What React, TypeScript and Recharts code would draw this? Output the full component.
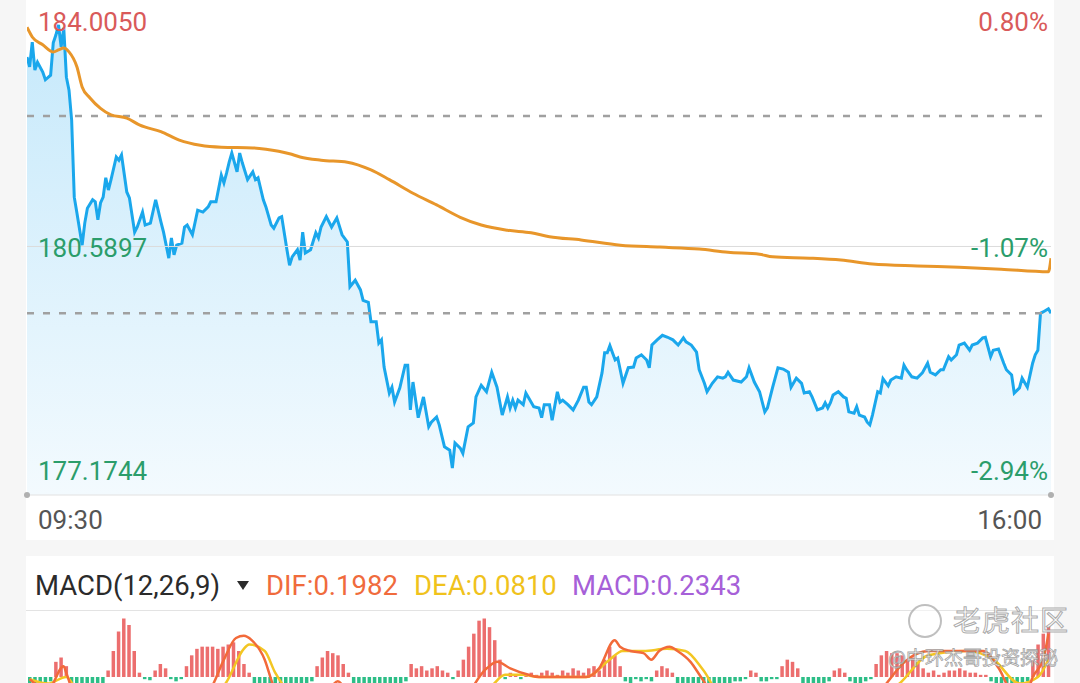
import React from 'react';
import {
  ComposedChart,
  Area,
  Line,
  Bar,
  Cell,
  XAxis,
  YAxis,
  ReferenceLine,
  ReferenceDot,
} from 'recharts';

// minutes since 09:30 -> last price
const priceTicks: [number, number][] = [
  [0, 183.51], [1, 183.36], [2, 183.74], [3, 183.31], [4, 183.43], [6, 183.28], [7, 183.16], [9, 183.23],
  [10, 183.73], [11, 183.85], [12, 184.005], [13, 183.67], [14, 183.96], [15, 183.2], [16, 183.0], [17, 182.54],
  [18, 181.35], [19, 181.11], [21, 180.61], [22, 180.95], [23, 181.18], [25, 181.31], [26, 181.28], [27, 181.0],
  [28, 181.26], [29, 181.35], [30, 181.65], [31, 181.46], [32, 181.62], [34, 181.97], [35, 181.92], [36, 182.0],
  [38, 181.43], [39, 181.34], [41, 180.81], [42, 180.89], [44, 181.12], [45, 180.92], [47, 180.95], [49, 181.31],
  [51, 180.97], [52, 180.81], [54, 180.41], [55, 180.72], [56, 180.46], [57, 180.61], [59, 180.64], [60, 180.89],
  [61, 180.92], [63, 180.77], [65, 181.15], [67, 181.12], [69, 181.2], [70, 181.28], [72, 181.28], [74, 181.69],
  [75, 181.57], [76, 181.72], [77, 181.89], [78, 182.03], [80, 181.74], [81, 182.03], [82, 181.88], [84, 181.62],
  [86, 181.74], [87, 181.62], [88, 181.65], [90, 181.31], [91, 181.2], [93, 180.92], [94, 180.87], [96, 181.03],
  [97, 181.05], [99, 180.54], [100, 180.3], [101, 180.43], [103, 180.54], [104, 180.38], [105, 180.81], [106, 180.49],
  [108, 180.54], [110, 180.8], [111, 180.72], [112, 180.89], [114, 181.05], [116, 180.89], [118, 181.03], [120, 180.77],
  [122, 180.66], [123, 179.97], [125, 180.07], [127, 179.92], [128, 179.76], [130, 179.73], [131, 179.43], [133, 179.43],
  [134, 179.1], [135, 179.15], [136, 178.73], [138, 178.33], [139, 178.42], [140, 178.19], [142, 178.41], [144, 178.76],
  [145, 178.76], [146, 178.07], [147, 178.5], [149, 177.95], [151, 178.27], [153, 177.81], [154, 177.88], [156, 177.96],
  [157, 177.84], [159, 177.5], [161, 177.45], [162, 177.1744], [163, 177.56], [165, 177.48], [166, 177.4], [168, 177.81],
  [170, 177.87], [171, 178.27], [173, 178.45], [175, 178.35], [177, 178.65], [179, 178.42], [181, 177.99], [183, 178.27],
  [184, 178.1], [185, 178.22], [186, 178.1], [187, 178.22], [189, 178.15], [190, 178.33], [193, 178.12], [195, 178.1],
  [196, 177.95], [197, 178.15], [199, 178.15], [200, 177.91], [202, 178.35], [203, 178.19], [204, 178.22], [206, 178.15],
  [208, 178.07], [210, 178.22], [212, 178.42], [213, 178.42], [214, 178.19], [215, 178.15], [217, 178.27], [219, 178.64],
  [220, 178.95], [221, 178.95], [222, 179.06], [224, 178.84], [225, 178.87], [227, 178.48], [229, 178.72], [231, 178.73],
  [232, 178.87], [234, 178.92], [236, 178.84], [237, 178.72], [238, 179.07], [240, 179.15], [242, 179.22], [244, 179.19],
  [246, 179.15], [248, 179.07], [250, 179.18], [251, 179.12], [253, 179.07], [255, 178.96], [256, 178.69], [258, 178.48],
  [259, 178.35], [261, 178.48], [263, 178.58], [265, 178.56], [266, 178.58], [267, 178.65], [269, 178.53], [272, 178.5],
  [274, 178.58], [275, 178.72], [277, 178.5], [279, 178.35], [281, 178.04], [282, 178.1], [284, 178.42], [286, 178.72],
  [288, 178.7], [290, 178.65], [291, 178.42], [293, 178.56], [295, 178.48], [296, 178.33], [298, 178.35], [299, 178.27],
  [301, 178.07], [303, 178.1], [304, 178.18], [305, 178.1], [306, 178.18], [307, 178.3], [309, 178.35], [311, 178.27],
  [312, 178.25], [313, 178.04], [315, 178.02], [316, 178.12], [317, 177.99], [319, 177.96], [320, 177.88], [321, 177.84],
  [322, 177.99], [324, 178.35], [325, 178.33], [326, 178.55], [328, 178.44], [329, 178.53], [331, 178.58], [333, 178.56],
  [334, 178.76], [335, 178.69], [337, 178.58], [339, 178.56], [341, 178.64], [343, 178.79], [344, 178.65], [346, 178.61],
  [348, 178.69], [349, 178.69], [351, 178.89], [352, 178.84], [354, 178.92], [355, 179.07], [357, 179.1], [359, 178.99],
  [360, 179.07], [362, 179.1], [364, 179.18], [365, 179.19], [366, 179.04], [367, 178.89], [368, 178.99], [370, 179.01],
  [372, 178.79], [373, 178.69], [375, 178.61], [376, 178.33], [378, 178.41], [379, 178.56], [381, 178.42], [383, 178.79],
  [384, 178.92], [385, 178.99], [386, 179.56], [387, 179.58], [389, 179.63], [390, 179.56],
];

// average price line
const avgTicks: [number, number][] = [
  [0, 183.97], [2, 183.82], [6, 183.7], [10, 183.59], [12, 183.62], [14, 183.65], [16, 183.59], [19, 183.36],
  [21, 183.05], [24, 182.88], [28, 182.72], [32, 182.62], [38, 182.57], [43, 182.46], [51, 182.36], [58, 182.23],
  [66, 182.15], [74, 182.12], [86, 182.11], [91, 182.09], [100, 182.02], [104, 181.97], [112, 181.92], [122, 181.89],
  [131, 181.77], [138, 181.62], [147, 181.41], [156, 181.23], [165, 181.04], [173, 180.92], [183, 180.84], [192, 180.8],
  [199, 180.74], [211, 180.69], [226, 180.61], [241, 180.58], [256, 180.55], [267, 180.5], [279, 180.47], [284, 180.43],
  [298, 180.41], [310, 180.38], [322, 180.32], [339, 180.29], [355, 180.27], [371, 180.24], [389, 180.2], [390, 180.41],
];

// MACD histogram, one bar every 2 minutes
const histValues: number[] = [
  -0.03, -0.04, -0.05, -0.04, -0.02,
  0.07, 0.09, 0.05,
  -0.04, -0.05, -0.06, -0.06, -0.05, -0.04, -0.03,
  0.03, 0.12, 0.21, 0.27, 0.24, 0.12, 0.02,
  -0.01, -0.015,
  0.03, 0.06, 0.04,
  -0.01, -0.02, -0.01,
  0.05, 0.1, 0.13, 0.14, 0.14, 0.14, 0.13, 0.14, 0.15, 0.16, 0.12, 0.06, 0.02,
  -0.03, -0.05, -0.06, -0.07, -0.07, -0.06, -0.06, -0.05, -0.05, -0.04, -0.03, -0.02,
  0.05, 0.09, 0.12, 0.11, 0.1, 0.06, 0.02,
  -0.03, -0.05, -0.06, -0.06, -0.07, -0.06, -0.05, -0.05, -0.04, -0.03, -0.02,
  0.06, 0.04, 0.05, 0.03, 0.04, 0.05, 0.03, 0.02,
  -0.01,
  0.03, 0.08, 0.14, 0.2, 0.26, 0.27, 0.23, 0.17, 0.08,
  -0.01, 0.02, 0.01, -0.01, 0.01, 0.02, 0.01,
  0.02, 0.03, 0.02, 0.01, 0.03, 0.02, 0.04, 0.03, 0.02,
  0.04, 0.05, 0.03,
  0.08, 0.14, 0.1, 0.05,
  -0.02, -0.03, -0.01, -0.02, -0.01, -0.02,
  0.03, 0.05, 0.04, 0.02,
  -0.03, -0.04, -0.05, -0.06, -0.06, -0.05, -0.05, -0.04, -0.04, -0.03, -0.03, -0.02, -0.02, -0.01,
  0.03, 0.02,
  -0.02, -0.02, -0.01, -0.01,
  0.05, 0.08, 0.07, 0.04,
  -0.03, -0.04, -0.05, -0.04, -0.03, -0.02,
  0.03, 0.04, 0.02,
  -0.02, -0.03, -0.03, -0.02, -0.01,
  0.06, 0.1, 0.12, 0.11, 0.11, 0.1, 0.08, 0.09, 0.07, 0.04,
  0.02, 0.03, 0.01, 0.02, 0.03, 0.03, 0.04, 0.03, 0.02, 0.02, 0.01, 0.01,
  -0.02, -0.04, -0.05, -0.06, -0.06, -0.05, -0.04, -0.02,
  0.08, 0.15, 0.2, 0.2343,
];

const difTicks: [number, number][] = [
  [0, -0.01], [7, -0.06], [13, 0.05], [14, 0.02], [17, -0.08], [28, -0.2], [39, -0.1], [51, -0.2],
  [69, -0.06], [74, 0.07], [79, 0.18], [82, 0.19], [85, 0.17], [90, 0.08], [93, -0.03], [100, -0.15],
  [112, -0.1], [118, -0.02], [123, -0.1], [142, -0.29], [161, -0.2], [175, 0.04], [179, 0.07], [184, 0.04],
  [191, 0.01], [195, 0.0], [203, 0.0], [213, 0.0], [218, 0.04], [224, 0.17], [226, 0.14], [230, 0.12],
  [235, 0.11], [238, 0.08], [241, 0.12], [245, 0.14], [248, 0.12], [253, 0.07], [257, 0.0], [261, -0.07],
  [268, -0.13], [279, -0.06], [291, -0.06], [302, -0.11], [314, -0.08], [323, -0.11], [328, -0.03], [335, 0.07],
  [344, 0.12], [357, 0.12], [365, 0.12], [371, 0.04], [376, -0.06], [382, -0.06], [384, 0.0], [388, 0.08],
  [390, 0.1982],
];

const deaTicks: [number, number][] = [
  [0, -0.01], [7, -0.03], [14, 0.0], [17, -0.04], [35, -0.15], [58, -0.17], [75, -0.03], [82, 0.13],
  [84, 0.15], [90, 0.12], [94, 0.02], [99, -0.06], [115, -0.11], [142, -0.22], [165, -0.17], [177, -0.04],
  [182, 0.01], [189, 0.01], [195, 0.0], [213, 0.0], [222, 0.08], [227, 0.12], [235, 0.12], [244, 0.13],
  [251, 0.12], [258, 0.03], [264, -0.07], [279, -0.08], [302, -0.1], [321, -0.11], [333, -0.03], [344, 0.1],
  [359, 0.12], [369, 0.08], [379, -0.03], [386, 0.0], [390, 0.081],
];

const priceLevels = [177.1744, 180.5897, 184.005];
const priceLevelText = ['177.1744', '180.5897', '184.0050'];
const pctText = ['-2.94%', '-1.07%', '0.80%'];
const dashedLevels = [182.6, 179.56];
const timeTicks = [0, 390];
const timeText = ['09:30', '16:00'];

const RED = '#d95a5a';
const GREEN = '#2b9d6b';
const BLUE = '#1aa7ec';
const ORANGE = '#e8962a';
const FONT = 'Roboto, sans-serif';

function mergeSeries(series: Record<string, [number, number][]>) {
  const rows = new Map<number, any>();
  for (const [key, pts] of Object.entries(series)) {
    for (const [m, v] of pts) {
      const row = rows.get(m) ?? { m };
      row[key] = v;
      rows.set(m, row);
    }
  }
  return [...rows.values()].sort((a, b) => a.m - b.m);
}

const priceData = mergeSeries({ p: priceTicks, a: avgTicks });
const histData = histValues.map((h, i) => ({ m: i * 2, h }));
const signalData = mergeSeries({ dif: difTicks, dea: deaTicks });

const tickShift = [3, 1, -3];

function nearestLevel(v: number) {
  let best = 0;
  priceLevels.forEach((l, i) => {
    if (Math.abs(l - v) < Math.abs(priceLevels[best] - v)) best = i;
  });
  return best;
}

const LeftTick = (props: any) => {
  const i = nearestLevel(Number(props.payload?.value));
  return (
    <text x={38} y={props.y + tickShift[i]} dy="0.35em" fill={i === 2 ? RED : GREEN} fontSize={26} fontFamily={FONT} textAnchor="start">
      {priceLevelText[i]}
    </text>
  );
};

const RightTick = (props: any) => {
  const i = nearestLevel(Number(props.payload?.value));
  return (
    <text x={1048} y={props.y + tickShift[i]} dy="0.35em" textAnchor="end" fill={i === 2 ? RED : GREEN} fontSize={26} fontFamily={FONT}>
      {pctText[i]}
    </text>
  );
};

const TimeTick = ({ payload }: any) => {
  const i = timeTicks.indexOf(payload.value);
  if (i < 0) return null;
  return (
    <text x={i === 0 ? 38 : 1042} y={520} dy="0.35em" textAnchor={i === 0 ? 'start' : 'end'} fill="#555" fontSize={26} fontFamily={FONT}>
      {timeText[i]}
    </text>
  );
};

const headerItems = [
  { text: 'MACD(12,26,9)', left: 35, color: '#2b2b2b' },
  { text: 'DIF:0.1982', left: 266, color: '#f06b3c' },
  { text: 'DEA:0.0810', left: 414, color: '#f0c21c' },
  { text: 'MACD:0.2343', left: 572, color: '#a660d8' },
];

const macdMargin = { top: 0, right: 29, left: 27, bottom: 0 };
const macdDomain: [number, number] = [-0.3, 0.3];

export default function App() {
  const yDomain: [number, number] = [176.758, 184.39];
  return (
    <div style={{ position: 'relative', width: 1080, height: 683, overflow: 'hidden', background: '#f6f6f6', fontFamily: FONT }}>
      <style>{'body{margin:0}'}</style>
      <div style={{ position: 'absolute', left: 26, top: 0, width: 1028, height: 540, background: '#fff' }} />
      <div style={{ position: 'absolute', left: 26, top: 556, width: 1028, height: 127, background: '#fff' }} />

      <div style={{ position: 'absolute', left: 0, top: 0 }}>
        <ComposedChart width={1080} height={540} data={priceData} margin={{ top: 0, right: 28, left: 26, bottom: 0 }}>
          <defs>
            <linearGradient id="priceFill" x1="0" y1="0" x2="0" y2="1">
              <stop offset="0%" stopColor="#c6e9fb" />
              <stop offset="100%" stopColor="#f3fafe" />
            </linearGradient>
          </defs>
          <XAxis
            dataKey="m"
            type="number"
            domain={[0, 390]}
            ticks={timeTicks}
            interval={0}
            height={45}
            axisLine={{ stroke: '#e2e2e2' }}
            tickLine={false}
            tick={<TimeTick />}
            allowDataOverflow
          />
          <YAxis
            yAxisId="left"
            type="number"
            domain={yDomain}
            ticks={priceLevels}
            interval={0}
            width={1}
            axisLine={false}
            tickLine={false}
            tick={<LeftTick />}
            allowDataOverflow
          />
          <YAxis
            yAxisId="right"
            orientation="right"
            type="number"
            domain={yDomain}
            ticks={priceLevels}
            interval={0}
            width={1}
            axisLine={false}
            tickLine={false}
            tick={<RightTick />}
            allowDataOverflow
          />
          <ReferenceLine yAxisId="left" y={priceLevels[1]} stroke="#dcdcdc" strokeWidth={1} />
          {dashedLevels.map(v => (
            <ReferenceLine key={v} yAxisId="left" y={v} stroke="#a0a0a0" strokeWidth={2.5} strokeDasharray="7 9" />
          ))}
          <Area
            yAxisId="left"
            dataKey="p"
            type="linear"
            stroke={BLUE}
            strokeWidth={3}
            fill="url(#priceFill)"
            fillOpacity={1}
            connectNulls
            dot={false}
            activeDot={false}
            isAnimationActive={false}
          />
          <Line
            yAxisId="left"
            dataKey="a"
            type="monotone"
            stroke={ORANGE}
            strokeWidth={3}
            connectNulls
            dot={false}
            activeDot={false}
            isAnimationActive={false}
          />
          <ReferenceDot yAxisId="left" x={0} y={yDomain[0]} r={3} fill="#b0b0b0" stroke="none" ifOverflow="visible" />
          <ReferenceDot yAxisId="left" x={390} y={yDomain[0]} r={3} fill="#b0b0b0" stroke="none" ifOverflow="visible" />
        </ComposedChart>
      </div>

      {headerItems.map(h => (
        <div key={h.text} style={{ position: 'absolute', left: h.left, top: 571, lineHeight: '30px', fontSize: 27.5, color: h.color, whiteSpace: 'nowrap' }}>
          {h.text}
        </div>
      ))}
      <div style={{ position: 'absolute', left: 237, top: 581, width: 0, height: 0, borderLeft: '6px solid transparent', borderRight: '6px solid transparent', borderTop: '9px solid #2b2b2b' }} />
      <div style={{ position: 'absolute', left: 26, top: 610, width: 1028, height: 1, background: '#e3e3e3' }} />

      <div style={{ position: 'absolute', left: 0, top: 612 }}>
        <ComposedChart width={1080} height={130} data={histData} margin={macdMargin}>
          <XAxis dataKey="m" type="number" domain={[-1, 391]} hide allowDataOverflow />
          <YAxis type="number" domain={macdDomain} hide allowDataOverflow />
          <Bar dataKey="h" barSize={3.5} isAnimationActive={false}>
            {histData.map((d, i) => (
              <Cell key={i} fill={d.h >= 0 ? '#ec6e6e' : '#2dbe87'} />
            ))}
          </Bar>
        </ComposedChart>
      </div>
      <div style={{ position: 'absolute', left: 0, top: 612 }}>
        <ComposedChart width={1080} height={130} data={signalData} margin={macdMargin}>
          <XAxis dataKey="m" type="number" domain={[-1, 391]} hide allowDataOverflow />
          <YAxis type="number" domain={macdDomain} hide allowDataOverflow />
          <Line dataKey="dea" type="monotone" stroke="#f3c623" strokeWidth={2.5} connectNulls dot={false} activeDot={false} isAnimationActive={false} />
          <Line dataKey="dif" type="monotone" stroke="#f26a3a" strokeWidth={2.5} connectNulls dot={false} activeDot={false} isAnimationActive={false} />
        </ComposedChart>
      </div>

      <div style={{ position: 'absolute', left: 908, top: 604, width: 30, height: 30, borderRadius: '50%', border: '2px solid rgba(170,170,170,0.75)', background: 'rgba(255,255,255,0.5)' }} />
      <div style={{ position: 'absolute', left: 953, top: 601, fontSize: 28, lineHeight: '36px', color: 'rgba(255,255,255,0.85)', WebkitTextStroke: '1px rgba(150,150,150,0.8)', fontFamily: '"Noto Sans CJK SC", sans-serif', letterSpacing: 1 }}>
        老虎社区
      </div>
      <div style={{ position: 'absolute', left: 888, top: 644, fontSize: 19, lineHeight: '26px', color: 'rgba(255,255,255,0.85)', WebkitTextStroke: '0.8px rgba(140,140,140,0.8)', fontFamily: '"Noto Sans CJK SC", sans-serif' }}>
        @中环杰哥投资探秘
      </div>
    </div>
  );
}
